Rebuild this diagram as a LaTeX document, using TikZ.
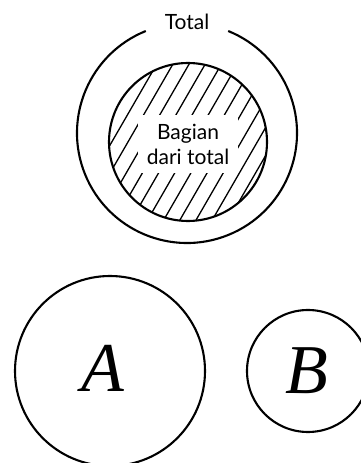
\documentclass[tikz,border=0pt]{standalone}
\usepackage{fontspec}
\setmainfont{Lato}
\newfontfamily\letterfont{Liberation Serif}
\tikzset{
  ring/.style={line width=2.1pt},
  hatch/.style={line width=1.3pt},
  caption/.style={font=\fontsize{21}{25}\selectfont, align=center, inner sep=0pt},
  setletter/.style={font=\letterfont\itshape\fontsize{70}{70}\selectfont, inner sep=0pt}
}
\begin{document}
\begin{tikzpicture}[x=1pt, y=1pt]
\useasboundingbox (0,0) rectangle (361,463);
\coordinate (oc) at (187,330);
\coordinate (ic) at (188,321);
% hatched part
\begin{scope}
\clip (ic) circle[radius=79pt];
\foreach \k in {-7,...,7}
  \draw[hatch] ([shift={(-30:{(\k*14+4)*1pt})}]ic) ++(240:100pt) -- ++(60:200pt);
\end{scope}
\draw[ring] (ic) circle[radius=79pt];
\draw[ring] ([shift={(112:110pt)}]oc) arc[start angle=112, end angle=428, radius=110pt];
\node[caption] (total) at (187,441) {Total};
\node[caption, fill=white, minimum width=100pt, minimum height=58pt] (part) at (188,319) {Bagian\\dari total};
% sets A and B
\draw[ring] (110,92) circle[radius=95pt];
\draw[ring] (308,92) circle[radius=61pt];
\node[setletter] (a) at (103,95) {A};
\node[setletter] (b) at (307,92) {B};
\end{tikzpicture}
\end{document}
